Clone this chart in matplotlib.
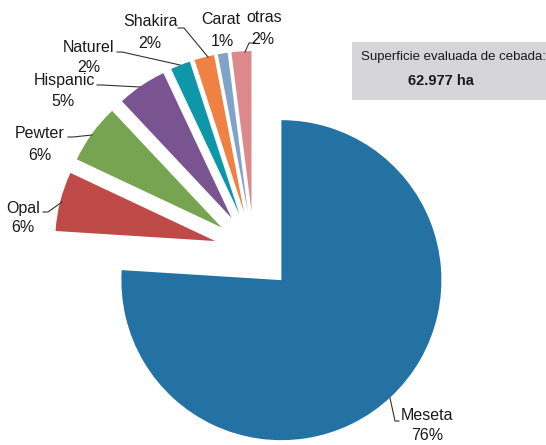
import matplotlib
matplotlib.use('Agg')
import matplotlib.pyplot as plt

# ── Data ─────────────────────────────────────────────────────────────────────
variedades = ['Meseta', 'Opal', 'Pewter', 'Hispanic', 'Naturel', 'Shakira', 'Carat', 'otras']
porcentajes = [76, 6, 6, 5, 2, 2, 1, 2]
colores = ['#2471A3', '#BE4B48', '#77A450', '#7A5490', '#0E97A8', '#EF8142', '#80A4C9', '#DB898B']

W, H = 546, 445
def Y(y):
    return H - y

fig = plt.figure(figsize=(W / 100, H / 100), dpi=100)
fig.patch.set_facecolor('white')
ax = fig.add_axes([0, 0, 1, 1])

# explode is in data units (px here) in ax.pie
ax.pie(porcentajes, colors=colores, startangle=90, counterclock=False,
       radius=160, center=(254, Y(251)), explode=[40] * len(porcentajes),
       wedgeprops=dict(linewidth=0))
ax.set_xlim(0, W)
ax.set_ylim(0, H)
ax.set_aspect('equal')
ax.axis('off')

FONT = 'Liberation Sans'
TXT = '#1a1a1a'

# label positions (screen px): name centre, pct centre
pos = {
    'Meseta':   ((427, 415), (427, 435)),
    'Opal':     ((23, 208), (23, 228)),
    'Pewter':   ((40, 134), (40, 156)),
    'Hispanic': ((64, 80), (63, 101)),
    'Naturel':  ((89, 48), (89, 67)),
    'Shakira':  ((151, 22), (150, 43)),
    'Carat':    ((221, 19), (222, 41)),
    'otras':    ((264, 17), (263, 39)),
}
for nombre, pct in zip(variedades, porcentajes):
    (nx, ny), (px, py) = pos[nombre]
    ax.text(nx, Y(ny), nombre, ha='center', va='center', fontsize=11.5,
            family=FONT, color=TXT)
    ax.text(px, Y(py), f'{pct}%', ha='center', va='center', fontsize=11.5,
            family=FONT, color=TXT)

# leader lines
leaders = [
    [(178, 28), (184, 28), (208, 57)],
    [(117, 52), (122, 52), (180, 65)],
    [(97, 85), (102, 85), (140, 87)],
    [(68, 137), (73, 137), (92, 135)],
    [(43, 212), (48, 212), (62, 202)],
    [(255, 43), (249, 43), (245, 52)],
    [(399, 421), (395, 421), (390, 398)],
]
for pts in leaders:
    ax.plot([p[0] for p in pts], [Y(p[1]) for p in pts], color='#333333', lw=0.8)

# info box
ax.add_patch(plt.Rectangle((352, Y(100)), 200, 58, facecolor='#D6D6D8',
                           edgecolor='none', zorder=3))
ax.text(361, Y(57), 'Superficie evaluada de cebada:', ha='left', va='center',
        fontsize=9.5, family=FONT, color=TXT, zorder=4)
ax.text(441, Y(81), '62.977 ha', ha='center', va='center', fontsize=10.5,
        family=FONT, weight='bold', color=TXT, zorder=4)

fig.savefig('out.png', dpi=100, facecolor='white')
